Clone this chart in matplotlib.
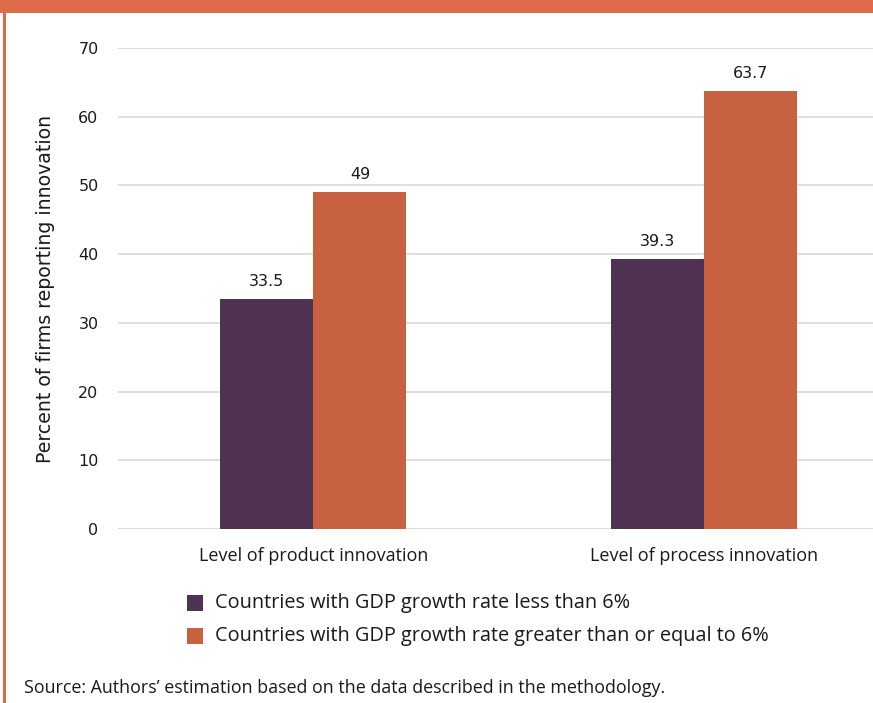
import matplotlib
matplotlib.use("Agg")
import matplotlib.pyplot as plt
from matplotlib.patches import Rectangle
import numpy as np

categories = ["Level of product innovation", "Level of process innovation"]
series_names = ["Countries with GDP growth rate less than 6%",
                "Countries with GDP growth rate greater than or equal to 6%"]
low_growth = [33.5, 39.3]
high_growth = [49, 63.7]
low_labels = ["33.5", "39.3"]
high_labels = ["49", "63.7"]
yticks = [0, 10, 20, 30, 40, 50, 60, 70]

c_low = "#4F3252"
c_high = "#C86140"
c_border = "#DE6A4A"

W, H = 873, 703
fig = plt.figure(figsize=(W/100, H/100), dpi=100)
ax = fig.add_axes([118/W, 1-529/H, (873-118)/W, (529-48)/H])

x = np.arange(len(categories))
bw = 0.238
ax.bar(x - bw/2, low_growth, bw, color=c_low, zorder=3)
ax.bar(x + bw/2, high_growth, bw, color=c_high, zorder=3)
for xi, v, lab in zip(x, low_growth, low_labels):
    ax.text(xi - bw/2, v + 1.5, lab, ha="center", va="bottom", fontsize=11.5, color="#1a1a1a")
for xi, v, lab in zip(x, high_growth, high_labels):
    ax.text(xi + bw/2, v + 1.5, lab, ha="center", va="bottom", fontsize=11.5, color="#1a1a1a")

ax.set_ylim(0, 70)
ax.set_xlim(-0.5, 1.432)
ax.set_yticks(yticks)
ax.set_yticklabels([str(t) for t in yticks], fontsize=11.5, color="#1a1a1a")
ax.set_xticks(x)
ax.set_xticklabels(categories, fontsize=13, color="#1a1a1a", family="Open Sans")
ax.tick_params(axis="x", length=0, pad=13)
ax.tick_params(axis="y", length=0, pad=14)
ax.grid(axis="y", color="#D9D9D9", linewidth=1.2, zorder=0)
for s in ax.spines.values():
    s.set_visible(False)
ax.axhline(0, color="#D9D9D9", linewidth=1.2, zorder=1)
ax.set_ylabel("Percent of firms reporting innovation", fontsize=13.6, color="#1a1a1a", labelpad=17)

# legend
for i, (name, col) in enumerate(zip(series_names, [c_low, c_high])):
    yc = 603 + 33*i
    fig.patches.append(Rectangle((187/W, 1-(yc+8)/H), 16/W, 16/H, transform=fig.transFigure,
                                 facecolor=col, edgecolor="none"))
    fig.text(215/W, 1-yc/H, name, fontsize=14.3, va="center", ha="left",
             family="Open Sans", color="#1a1a1a")

fig.text(24/W, 1-688/H, "Source: Authors\u2019 estimation based on the data described in the methodology.",
         fontsize=12.9, va="center", ha="left", family="Open Sans", color="#1a1a1a")

# frame decorations
fig.patches.append(Rectangle((0, 1-13/H), 1, 13/H, transform=fig.transFigure,
                             facecolor=c_border, edgecolor="none"))
fig.patches.append(Rectangle((3/W, 0), 3/W, 1, transform=fig.transFigure,
                             facecolor=c_border, edgecolor="none"))

fig.savefig("out.png", dpi=100)
